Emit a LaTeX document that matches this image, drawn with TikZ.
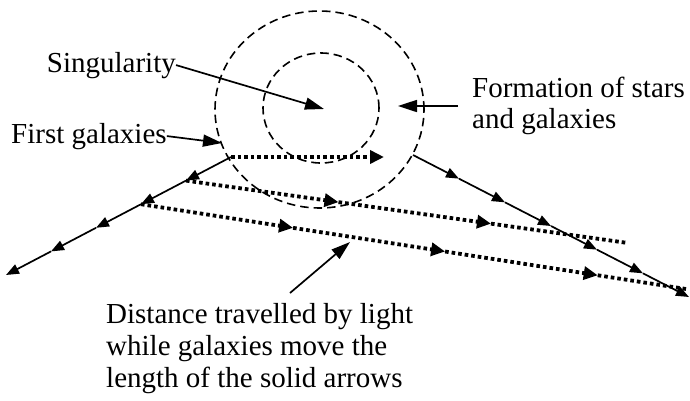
\documentclass[tikz,border=0pt]{standalone}
\usepackage{fontspec}
\setmainfont{Liberation Serif}
\usetikzlibrary{arrows.meta,calc}
\begin{document}
\begin{tikzpicture}[x=1pt,y=-1pt,
  lbl/.style={inner sep=0pt, font=\fontsize{29}{32}\selectfont},
  ptr/.style={line width=1.7pt, -{Triangle[length=19pt,width=12pt]}},
  move/.style={line width=1.7pt, -{Triangle[length=13pt,width=10pt]}},
  ray/.style={line width=3.8pt, dash pattern=on 3.6pt off 3pt},
  rayarr/.style={ray, -{Triangle[length=14pt,width=13pt]}},
  ring/.style={line width=1.6pt, dash pattern=on 8.5pt off 5pt}]
\useasboundingbox (0,0) rectangle (690,400);

% dashed rings
\draw[ring] (319.5,109.5) ellipse [x radius=104.5pt, y radius=98.5pt];
\draw[ring] (321,108) ellipse [x radius=58pt, y radius=55pt];

% galaxy positions (left line)
\coordinate (P0) at (231,157);
\coordinate (P5) at (6,275);
\coordinate (P1) at ($(P0)!0.2!(P5)$);
\coordinate (P2) at ($(P0)!0.4!(P5)$);
\coordinate (P3) at ($(P0)!0.6!(P5)$);
\coordinate (P4) at ($(P0)!0.8!(P5)$);
% galaxy positions (right line)
\coordinate (Q0) at (413,155);
\coordinate (Q6) at (689,297);
\coordinate (Q1) at ($(Q0)!1/6!(Q6)$);
\coordinate (Q2) at ($(Q0)!2/6!(Q6)$);
\coordinate (Q3) at ($(Q0)!3/6!(Q6)$);
\coordinate (Q4) at ($(Q0)!4/6!(Q6)$);
\coordinate (Q5) at ($(Q0)!5/6!(Q6)$);

% light rays
\coordinate (R1e) at (384,157);
\coordinate (R2e) at (628,243);
\coordinate (R2a) at ($(P1)!0.345!(R2e)$);
\coordinate (R2b) at ($(P1)!0.690!(R2e)$);
\coordinate (R3e) at (686,289);
\coordinate (R3a) at ($(P2)!0.279!(R3e)$);
\coordinate (R3b) at ($(P2)!0.558!(R3e)$);
\coordinate (R3c) at ($(P2)!0.838!(R3e)$);

\draw[rayarr] (P0) -- (R1e);
\draw[rayarr] (P1) -- (R2a);
\draw[rayarr] (R2a) -- (R2b);
\draw[ray] (R2b) -- (R2e);
\draw[rayarr] (P2) -- (R3a);
\draw[rayarr] (R3a) -- (R3b);
\draw[rayarr] (R3b) -- (R3c);
\draw[ray] (R3c) -- (R3e);

% moving galaxies
\draw[move] (P0) -- (P1);
\draw[move] (P1) -- (P2);
\draw[move] (P2) -- (P3);
\draw[move] (P3) -- (P4);
\draw[move] (P4) -- (P5);
\draw[move] (Q0) -- (Q1);
\draw[move] (Q1) -- (Q2);
\draw[move] (Q2) -- (Q3);
\draw[move] (Q3) -- (Q4);
\draw[move] (Q4) -- (Q5);
\draw[move] (Q5) -- (Q6);

% labels
\node[lbl, anchor=base east] (sing) at (176,72) {Singularity};
\node[lbl, anchor=base west] (first) at (11,143) {First galaxies};
\node[lbl, anchor=base west] (form1) at (472,97) {Formation of stars};
\node[lbl, anchor=base west] (form2) at (472,128) {and galaxies};
\node[lbl, anchor=base west] (dist1) at (106,323) {Distance travelled by light};
\node[lbl, anchor=base west] (dist2) at (106,355) {while galaxies move the};
\node[lbl, anchor=base west] (dist3) at (106,387) {length of the solid arrows};

\coordinate (singtip) at (324,109);
\coordinate (firsttip) at (222,143);
\coordinate (formstart) at (458,106);
\coordinate (formtip) at (398,106);
\coordinate (diststart) at (290,293);
\coordinate (disttip) at (350,242);

\draw[ptr] (sing.east) -- (singtip);
\draw[ptr] (first.east) -- (firsttip);
\draw[ptr] (formstart) -- (formtip);
\draw[ptr] (diststart) -- (disttip);
\end{tikzpicture}
\end{document}
